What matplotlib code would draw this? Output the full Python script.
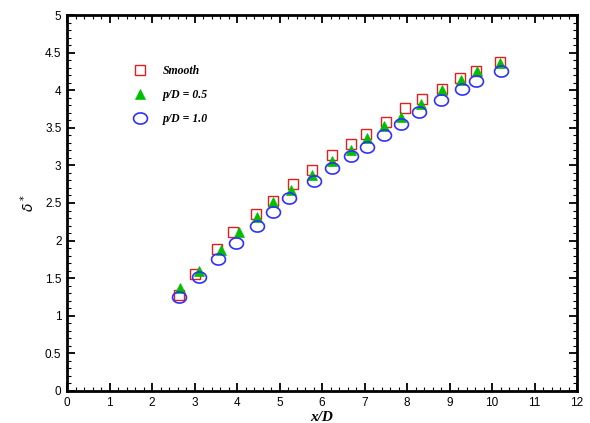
import numpy as np
import matplotlib
matplotlib.use("Agg")
import matplotlib.pyplot as plt
from matplotlib.path import Path
from matplotlib.ticker import MultipleLocator

# values
x_smooth = [2.64, 3.02, 3.54, 3.91, 4.44, 4.84, 5.32, 5.76, 6.24, 6.69, 7.04, 7.51, 7.95, 8.35, 8.82, 9.25, 9.63, 10.19]
y_smooth = [1.27, 1.55, 1.89, 2.12, 2.36, 2.52, 2.75, 2.94, 3.14, 3.29, 3.42, 3.58, 3.77, 3.88, 4.02, 4.16, 4.26, 4.38]

x_p05 = [2.66, 3.11, 3.62, 4.05, 4.46, 4.85, 5.26, 5.76, 6.23, 6.68, 7.06, 7.46, 7.86, 8.32, 8.82, 9.26, 9.65, 10.19]
y_p05 = [1.37, 1.60, 1.88, 2.11, 2.32, 2.51, 2.67, 2.87, 3.06, 3.21, 3.36, 3.52, 3.65, 3.82, 4.00, 4.14, 4.25, 4.36]

x_p10 = [2.64, 3.10, 3.55, 3.98, 4.46, 4.84, 5.23, 5.80, 6.24, 6.69, 7.05, 7.45, 7.87, 8.29, 8.80, 9.29, 9.63, 10.20]
y_p10 = [1.25, 1.51, 1.75, 1.97, 2.20, 2.38, 2.57, 2.79, 2.96, 3.13, 3.25, 3.40, 3.55, 3.71, 3.87, 4.01, 4.12, 4.26]

labels = ["Smooth", "p/D = 0.5", "p/D = 1.0"]

# slightly flattened circle, like the original plot's symbol
t = np.linspace(0, 2 * np.pi, 60)
ellipse = Path(np.column_stack([np.cos(t), 0.8 * np.sin(t)]), closed=True)

fig = plt.figure(figsize=(5.9, 4.23), dpi=100)
ax = fig.add_axes([0.1136, 0.0757, 0.8644, 0.8888])

ax.plot(x_smooth, y_smooth, ls="none", marker="s", ms=7, mfc="none", mec="#e02020",
        mew=1.0, label=labels[0])
ax.plot(x_p05, y_p05, ls="none", marker="^", ms=7.5, mfc="#00c000", mec="#00c000",
        mew=0.5, label=labels[1])
ax.plot(x_p10, y_p10, ls="none", marker=ellipse, ms=10, mfc="none", mec="#3030ff",
        mew=1.2, label=labels[2])

ax.set_xlim(0, 12)
ax.set_ylim(0, 5)
ax.xaxis.set_major_locator(MultipleLocator(1))
ax.xaxis.set_minor_locator(MultipleLocator(0.2))
ax.yaxis.set_major_locator(MultipleLocator(0.5))
ax.yaxis.set_minor_locator(MultipleLocator(0.1))
ax.yaxis.set_major_formatter(plt.FuncFormatter(lambda v, p: "%g" % v))

ax.tick_params(which="both", direction="in", top=True, right=True,
               labelsize=8.5, pad=4)
ax.tick_params(which="major", length=6, width=1.3)
ax.tick_params(which="minor", length=3, width=0.8)
for lab in ax.get_xticklabels() + ax.get_yticklabels():
    lab.set_family("Liberation Sans")
for s in ax.spines.values():
    s.set_linewidth(2)

ax.set_xlabel("x/D", family="Liberation Serif", style="italic", weight="bold",
              fontsize=11, labelpad=2)
ax.set_ylabel(r"$\delta^*$", fontsize=10, labelpad=6)

leg = ax.legend(loc="upper left", bbox_to_anchor=(0.1, 0.895), frameon=False,
                handletextpad=0.9, labelspacing=1.0,
                prop={"family": "Liberation Serif", "style": "italic",
                      "weight": "bold", "size": 8.5})

fig.savefig("out.png", dpi=100)
